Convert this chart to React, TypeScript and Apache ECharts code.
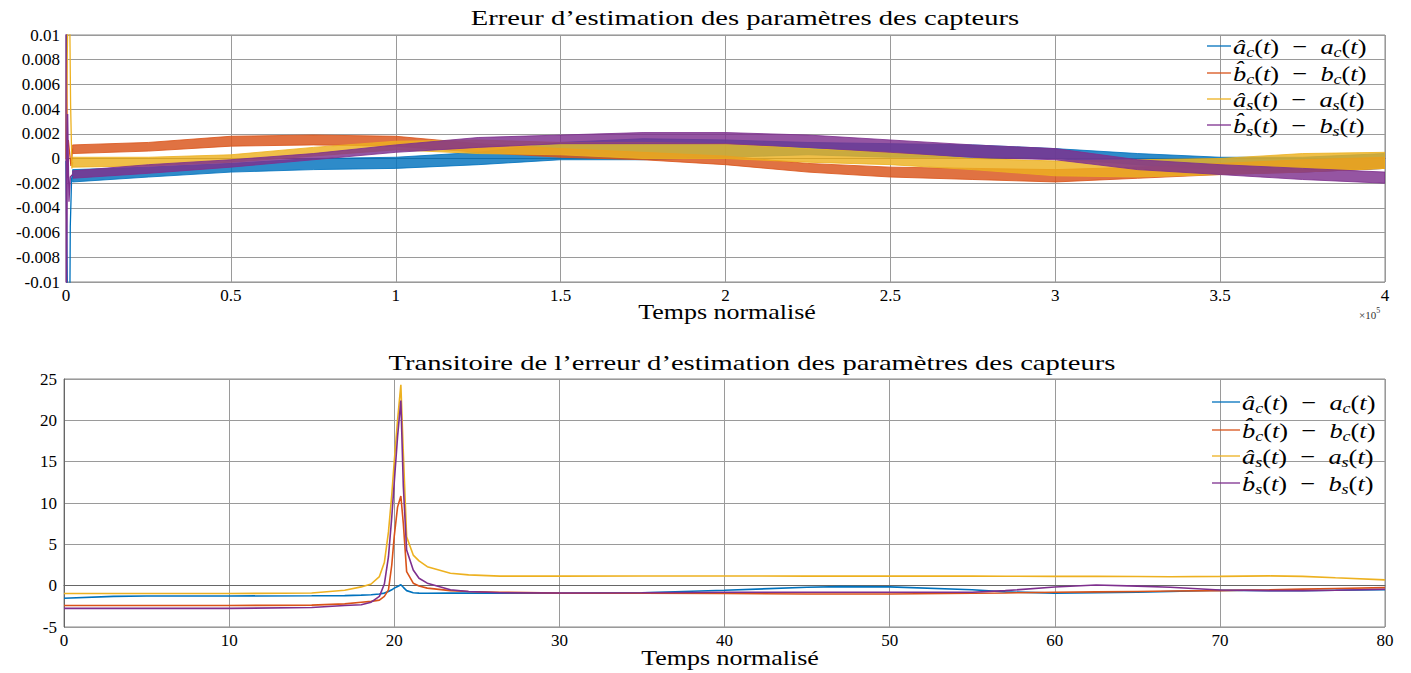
import React, { useEffect, useRef } from "react";
import * as echarts from "echarts";

const C_AC = "#0072BD";
const C_BC = "#D95319";
const C_AS = "#EDB120";
const C_BS = "#7E2F8E";

// ---------- Top chart: envelope (low/high) of the fast oscillation ----------
const topX = [2000, 25000, 50000, 75000, 100000, 125000, 150000, 175000, 200000, 225000, 250000, 275000, 300000, 325000, 350000, 375000, 400000];
const acLow = [-0.0019, -0.0015, -0.0011, -0.0009, -0.0008, -0.0005, -0.0001, -0.0001, 0.0001, 0.0003, 0.0001, 0.0001, 0.0, -0.0005, -0.0009, -0.0011, -0.0008];
const acHigh = [-0.0009, -0.0007, -0.0004, 0.0, 0.0001, 0.0005, 0.0013, 0.0016, 0.0015, 0.0013, 0.0012, 0.0011, 0.0008, 0.0004, 0.0001, 0.0001, 0.0004];
const bcLow = [0.0004, 0.0006, 0.001, 0.0011, 0.001, 0.0005, 0.0001, -0.0001, -0.0005, -0.0011, -0.0015, -0.0017, -0.0019, -0.0016, -0.0013, -0.0011, -0.0008];
const bcHigh = [0.0011, 0.0013, 0.0018, 0.0019, 0.0018, 0.0012, 0.0008, 0.0005, 0.0002, -0.0004, -0.0007, -0.0008, -0.0009, -0.0007, -0.0004, -0.0001, 0.0001];
const asLow = [-0.0007, -0.0006, -0.0003, 0.0002, 0.0007, 0.0004, 0.0003, 0.0, 0.0, -0.0003, -0.0005, -0.0009, -0.0014, -0.0015, -0.0013, -0.0011, -0.0008];
const asHigh = [0.0001, 0.0001, 0.0003, 0.0009, 0.0014, 0.0015, 0.0013, 0.0013, 0.0012, 0.0008, 0.0005, 0.0, -0.0002, -0.0001, 0.0, 0.0004, 0.0005];
const bsLow = [-0.0016, -0.0012, -0.0007, -0.0001, 0.0005, 0.0009, 0.0012, 0.0012, 0.0012, 0.0009, 0.0005, 0.0001, -0.0001, -0.0009, -0.0013, -0.0017, -0.002];
const bsHigh = [-0.001, -0.0005, -0.0001, 0.0004, 0.0011, 0.0017, 0.0019, 0.0021, 0.0021, 0.0019, 0.0015, 0.0011, 0.0008, -0.0001, -0.0005, -0.0008, -0.0011];

// initial transients (near t = 0)
const acTrX = [0, 600, 1100, 1300, 1700, 2000];
const acTrY = [-0.0002, -0.015, -0.015, -0.0055, -0.0016, -0.0014];
const bcTrX = [0, 200, 400, 700, 1500, 2000];
const bcTrY = [0, 0.008, 0.0008, 0.0015, -0.0006, 0.0008];
const asTrX = [0, 700, 1000, 1400, 1800, 2000];
const asTrY = [0, 0.015, 0.015, 0.0043, -0.0008, -0.0003];
const bsTrX = [0, 100, 500, 900, 1300, 2000];
const bsTrY = [0.015, -0.015, 0.0036, -0.0035, -0.0015, -0.0013];

// ---------- Bottom chart: transient ----------
const botX = [0, 3, 5, 10, 15, 17, 18, 18.6, 19.1, 19.4, 19.65, 19.85, 20.0, 20.2, 20.4, 20.55, 20.75, 21.15, 21.5, 22, 23.4, 24.5, 26.4, 30, 35, 40, 45, 47, 50, 55, 57, 60, 62.5, 65, 67, 70, 73, 75, 77, 80];
const acBot = [-1.52, -1.3, -1.25, -1.25, -1.22, -1.2, -1.15, -1.1, -1.0, -0.9, -0.7, -0.5, -0.3, -0.1, 0.12, -0.2, -0.6, -0.85, -0.9, -0.92, -0.9, -0.9, -0.9, -0.92, -0.85, -0.55, -0.2, -0.12, -0.15, -0.5, -0.75, -0.9, -0.85, -0.8, -0.7, -0.55, -0.6, -0.6, -0.55, -0.5];
const bcBot = [-2.4, -2.4, -2.4, -2.4, -2.35, -2.2, -2.0, -1.9, -1.75, -1.3, -0.5, 2.5, 6.0, 9.5, 10.85, 7.5, 1.7, 0.3, -0.05, -0.3, -0.6, -0.7, -0.8, -0.9, -0.92, -0.95, -1.0, -1.0, -1.0, -0.92, -0.88, -0.8, -0.75, -0.7, -0.65, -0.6, -0.5, -0.42, -0.35, -0.24];
const asBot = [-0.95, -0.95, -0.95, -0.95, -0.88, -0.55, -0.15, 0.2, 1.1, 2.8, 6.5, 11, 15, 20, 24.3, 16, 5.9, 3.7, 3.0, 2.3, 1.5, 1.3, 1.15, 1.15, 1.17, 1.17, 1.16, 1.16, 1.15, 1.15, 1.14, 1.12, 1.12, 1.1, 1.08, 1.12, 1.18, 1.12, 0.95, 0.7];
const bsBot = [-2.75, -2.75, -2.75, -2.75, -2.65, -2.4, -2.3, -2.0, -1.3, 0.2, 3.5, 8.3, 12.5, 18, 22.4, 12, 4.3, 1.9, 0.9, 0.3, -0.5, -0.7, -0.85, -0.88, -0.85, -0.8, -0.8, -0.8, -0.8, -0.8, -0.6, -0.16, 0.08, -0.05, -0.2, -0.52, -0.6, -0.6, -0.55, -0.44];

const topYTicks = { min: -0.01, max: 0.01, interval: 0.002 };
const topXTicks = { min: 0, max: 400000, interval: 50000 };
const botYTicks = { min: -5, max: 25, interval: 5 };
const botXTicks = { min: 0, max: 80, interval: 10 };

const legendNames = ["ac", "bc", "as", "bs"];
const legendColors = [C_AC, C_BC, C_AS, C_BS];
const MINUS = "{n|\u2002−\u2002}";
const legendTexts = [
  "{i|â}{s|c}{n|(}{i|t}{n|)}" + MINUS + "{i|a}{s|c}{n|(}{i|t}{n|)}",
  "{i|b\u0302}{s|c}{n|(}{i|t}{n|)}" + MINUS + "{i|b}{s|c}{n|(}{i|t}{n|)}",
  "{i|â}{s|s}{n|(}{i|t}{n|)}" + MINUS + "{i|a}{s|s}{n|(}{i|t}{n|)}",
  "{i|b\u0302}{s|s}{n|(}{i|t}{n|)}" + MINUS + "{i|b}{s|s}{n|(}{i|t}{n|)}",
];

const SERIF = "'Liberation Serif', 'DejaVu Serif', serif";

function pairs(xs: number[], ys: number[]) {
  return xs.map((x, i) => [x, ys[i]]);
}

function band(name: string, color: string, low: number[], high: number[]) {
  return {
    type: "custom",
    name,
    xAxisIndex: 0,
    yAxisIndex: 0,
    data: [[topX[0], low[0]]],
    encode: { x: 0, y: 1 },
    clip: true,
    renderItem: (_params: any, api: any) => {
      const pts: number[][] = [];
      for (let i = 0; i < topX.length; i++) pts.push(api.coord([topX[i], low[i]]));
      for (let i = topX.length - 1; i >= 0; i--) pts.push(api.coord([topX[i], high[i]]));
      return {
        type: "polygon",
        shape: { points: pts },
        style: { fill: color, opacity: 0.82, stroke: color, lineWidth: 1 },
      };
    },
  };
}

function trans(name: string, color: string, xs: number[], ys: number[]) {
  return {
    type: "line",
    name,
    xAxisIndex: 0,
    yAxisIndex: 0,
    data: pairs(xs, ys),
    symbol: "none",
    lineStyle: { color, width: 1.3 },
    itemStyle: { color },
  };
}

function botLine(name: string, color: string, ys: number[]) {
  return {
    type: "line",
    name,
    xAxisIndex: 1,
    yAxisIndex: 1,
    data: pairs(botX, ys),
    symbol: "none",
    lineStyle: { color, width: 1.6 },
    itemStyle: { color },
  };
}

const richStyles = {
  i: { fontFamily: SERIF, fontStyle: "italic", fontSize: 22, lineHeight: 24, fill: "#000", verticalAlign: "bottom" },
  n: { fontFamily: SERIF, fontSize: 22, lineHeight: 24, fill: "#000", verticalAlign: "bottom" },
  s: { fontFamily: SERIF, fontStyle: "italic", fontSize: 15, height: 10, lineHeight: 24, fill: "#000", verticalAlign: "bottom" },
};

function legendGraphics(x0: number, ys: number[], lineLen: number) {
  const out: any[] = [];
  ys.forEach((y, k) => {
    out.push({
      type: "line",
      shape: { x1: x0, y1: y, x2: x0 + lineLen, y2: y },
      style: { stroke: legendColors[k], lineWidth: 1.3 },
      z: 100,
    });
    out.push({
      type: "text",
      x: x0 + lineLen + 2,
      y: y - 1,
      scaleX: 1.2,
      style: {
        text: legendTexts[k],
        rich: richStyles,
        align: "left",
        verticalAlign: "middle",
      },
      z: 100,
    });
  });
  return out;
}

export default function App() {
  const ref = useRef<HTMLDivElement>(null);
  useEffect(() => {
    if (!ref.current) return;
    const chart = echarts.init(ref.current, undefined, { renderer: "svg" });
    const axisLabel = { color: "#000", fontFamily: SERIF, fontSize: 17 };
    const splitLine = { show: true, lineStyle: { color: "#9a9a9a", width: 1 } };
    const titleStyle = { fontFamily: SERIF, fontSize: 22, fill: "#000", align: "center", verticalAlign: "middle" };
    const option: any = {
      animation: false,
      backgroundColor: "#fff",
      grid: [
        { left: 66, top: 35, width: 1319, height: 247, show: true, borderColor: "#888", borderWidth: 1 },
        { left: 64, top: 379, width: 1321, height: 248, show: true, borderColor: "#888", borderWidth: 1 },
      ],
      xAxis: [
        {
          type: "value",
          gridIndex: 0,
          ...topXTicks,
          axisLine: { show: true, lineStyle: { color: "#666" } },
          axisTick: { show: false },
          axisLabel: { ...axisLabel, margin: 5, formatter: (v: number) => String(v / 100000) },
          splitLine,
        },
        {
          type: "value",
          gridIndex: 1,
          ...botXTicks,
          axisLine: { show: true, lineStyle: { color: "#666" } },
          axisTick: { show: false },
          axisLabel: { ...axisLabel, margin: 5 },
          splitLine,
        },
      ],
      yAxis: [
        {
          type: "value",
          gridIndex: 0,
          ...topYTicks,
          axisLine: { show: true, lineStyle: { color: "#666" } },
          axisTick: { show: false },
          axisLabel: { ...axisLabel, margin: 6 },
          splitLine,
        },
        {
          type: "value",
          gridIndex: 1,
          ...botYTicks,
          axisLine: { show: true, lineStyle: { color: "#666" } },
          axisTick: { show: false },
          axisLabel: { ...axisLabel, margin: 7 },
          splitLine,
        },
      ],
      series: [
        trans(legendNames[0], C_AC, acTrX, acTrY),
        trans(legendNames[1], C_BC, bcTrX, bcTrY),
        trans(legendNames[2], C_AS, asTrX, asTrY),
        trans(legendNames[3], C_BS, bsTrX, bsTrY),
        band(legendNames[0], C_AC, acLow, acHigh),
        band(legendNames[1], C_BC, bcLow, bcHigh),
        band(legendNames[2], C_AS, asLow, asHigh),
        band(legendNames[3], C_BS, bsLow, bsHigh),
        botLine(legendNames[0], C_AC, acBot),
        botLine(legendNames[1], C_BC, bcBot),
        botLine(legendNames[2], C_AS, asBot),
        botLine(legendNames[3], C_BS, bsBot),
      ],
      graphic: [
        {
          type: "text",
          x: 745,
          y: 18,
          scaleX: 1.3,
          style: { ...titleStyle, text: "Erreur d’estimation des paramètres des capteurs" },
        },
        {
          type: "text",
          x: 752,
          y: 363,
          scaleX: 1.3,
          style: { ...titleStyle, text: "Transitoire de l’erreur d’estimation des paramètres des capteurs" },
        },
        {
          type: "text",
          x: 727,
          y: 312,
          scaleX: 1.18,
          style: { ...titleStyle, text: "Temps normalisé" },
        },
        {
          type: "text",
          x: 730,
          y: 658,
          scaleX: 1.18,
          style: { ...titleStyle, text: "Temps normalisé" },
        },
        {
          type: "text",
          x: 1359,
          y: 313,
          style: {
            text: "{a|×10}{b|5}",
            align: "left",
            verticalAlign: "middle",
            rich: {
              a: { fontFamily: SERIF, fontSize: 11, fill: "#333", lineHeight: 14, verticalAlign: "bottom" },
              b: { fontFamily: SERIF, fontSize: 8, fill: "#333", lineHeight: 8, verticalAlign: "top" },
            },
          },
        },
        ...legendGraphics(1207, [46, 73, 99, 125], 24),
        ...legendGraphics(1212, [402, 430, 456, 483], 28),
      ],
    };
    chart.setOption(option);
    return () => chart.dispose();
  }, []);
  return (
    <div
      ref={ref}
      style={{ position: "fixed", left: 0, top: 0, width: 1411, height: 673, background: "#fff" }}
    />
  );
}
